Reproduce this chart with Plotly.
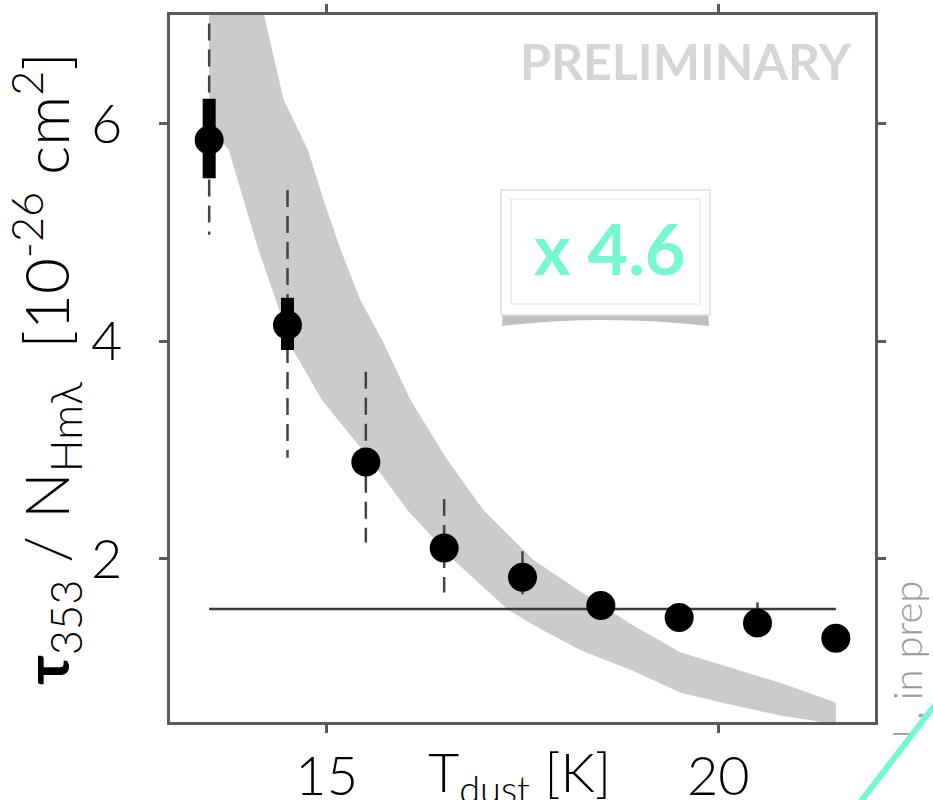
import plotly.graph_objects as go

# Dust optical depth per H nucleon versus dust temperature
T_dust = [13.5, 14.5, 15.5, 16.5, 17.5, 18.5, 19.5, 20.5, 21.5]
tau_per_nh = [5.85, 4.15, 2.89, 2.10, 1.83, 1.57, 1.46, 1.41, 1.27]

# statistical (thick) and systematic (dashed) uncertainty ranges
stat_lo = [5.50, 3.92, None, None, None, None, None, None, None]
stat_hi = [6.23, 4.40, None, None, None, None, None, None, None]
sys_lo = [4.98, 2.93, 2.15, 1.69, 1.63, None, None, 1.41, None]
sys_hi = [7.40, 5.39, 3.72, 2.55, 2.07, None, None, 1.60, None]

# reference level (horizontal line)
ref_level = 1.54

# model band: upper and lower envelopes
band_T_hi = [13.5, 14.2, 14.45, 14.76, 14.96, 15.18, 15.43, 15.71, 16.07, 16.54,
             17.0, 17.64, 18.24, 18.88, 19.52, 20.15, 20.79, 21.5]
band_hi = [9.2, 7.0, 6.22, 5.76, 5.30, 4.84, 4.38, 4.01, 3.46, 2.91,
           2.45, 1.99, 1.70, 1.40, 1.14, 1.00, 0.86, 0.68]
band_T_lo = [13.5, 13.75, 13.94, 14.13, 14.35, 14.57, 14.95, 15.56, 16.03, 16.62,
             17.32, 17.69, 18.24, 18.88, 19.52, 20.15, 20.79, 21.5]
band_lo = [5.97, 5.76, 5.30, 4.84, 4.38, 3.92, 3.45, 2.91, 2.45, 1.99,
           1.53, 1.37, 1.16, 0.98, 0.77, 0.66, 0.56, 0.48]

x_ticks = [15, 20]
y_ticks = [2, 4, 6]

FONT = "Lato, 'Open Sans', sans-serif"
AXIS = "#5a5a5a"
AQUA = "#76f7d4"

# plot-area geometry in pixels (used for decorations in paper units)
PL, PR, PT, PB = 170, 875, 15, 722
W, H = 933, 800


def px(x):
    return (x - PL) / (PR - PL)


def py(y):
    return (PB - y) / (PB - PT)


def segments(xs, lo, hi):
    sx, sy = [], []
    for x, a, b in zip(xs, lo, hi):
        if a is None or b is None:
            continue
        sx += [x, x, None]
        sy += [b, a, None]
    return sx, sy


fig = go.Figure()

# shaded model band
fig.add_trace(go.Scatter(
    x=band_T_hi + band_T_lo[::-1],
    y=band_hi + band_lo[::-1],
    fill="toself", fillcolor="#cbcbcb",
    line=dict(width=0), mode="lines", hoverinfo="skip", showlegend=False,
))

# reference level
fig.add_trace(go.Scatter(
    x=[T_dust[0], T_dust[-1]], y=[ref_level, ref_level],
    mode="lines", line=dict(color="#3a3a3a", width=2.5),
    hoverinfo="skip", showlegend=False,
))

# systematic error bars (dashed)
sx, sy = segments(T_dust, sys_lo, sys_hi)
fig.add_trace(go.Scatter(
    x=sx, y=sy, mode="lines",
    line=dict(color="#444444", width=2.5, dash="17px,9px"),
    hoverinfo="skip", showlegend=False,
))

# statistical error bars (thick)
sx, sy = segments(T_dust, stat_lo, stat_hi)
fig.add_trace(go.Scatter(
    x=sx, y=sy, mode="lines",
    line=dict(color="black", width=13),
    hoverinfo="skip", showlegend=False,
))

# data points
fig.add_trace(go.Scatter(
    x=T_dust, y=tau_per_nh, mode="markers",
    marker=dict(color="black", size=29, symbol="circle"),
    showlegend=False,
))

# boxed factor label: shadow, frame, inner frame
shapes = [
    dict(type="path", xref="paper", yref="paper", layer="above",
         path=(f"M {px(503)},{py(311)} L {px(708)},{py(311)} "
               f"L {px(709)},{py(326)} Q {px(605)},{py(314)} {px(502)},{py(326)} Z"),
         fillcolor="rgba(0,0,0,0.25)", line=dict(width=0)),
    dict(type="rect", xref="paper", yref="paper", layer="above",
         x0=px(501), x1=px(710), y0=py(315), y1=py(190),
         fillcolor="white", line=dict(color="#e0e0e0", width=1.5)),
    dict(type="rect", xref="paper", yref="paper", layer="above",
         x0=px(511), x1=px(700), y0=py(304), y1=py(199),
         line=dict(color="#ececec", width=1.5)),
]

annotations = [
    dict(text="<b>PRELIMINARY</b>", x=px(685), y=py(61), xref="paper", yref="paper",
         xanchor="center", yanchor="middle", showarrow=False,
         font=dict(family=FONT, size=50, color="#d6d6d6")),
    dict(text="<b>x 4.6</b>", x=px(609), y=py(248), xref="paper", yref="paper",
         xanchor="center", yanchor="middle", showarrow=False,
         font=dict(family=FONT, size=70, color=AQUA)),
    dict(text="T<sub>dust</sub> [K]", x=px(519), y=py(737), xref="paper", yref="paper",
         xanchor="center", yanchor="top", showarrow=False,
         font=dict(family=FONT, size=54, color="black", weight=300)),
    dict(text="al., in prep", x=px(906), y=py(579), xref="paper", yref="paper",
         xanchor="center", yanchor="top", textangle=-90, showarrow=False,
         font=dict(family=FONT, size=40, color="#9a9a9a", weight=300)),
    # page corner with aquamarine edge
    dict(text=" ", x=px(1058), y=py(878), xref="paper", yref="paper",
         xanchor="center", yanchor="middle", textangle=37.6, showarrow=False,
         width=400, height=600, bgcolor="white",
         bordercolor=AQUA, borderwidth=6, borderpad=0,
         font=dict(size=10)),
]

fig.update_layout(
    width=W, height=H,
    margin=dict(l=PL, r=W - PR, t=PT, b=H - PB, autoexpand=False),
    paper_bgcolor="white", plot_bgcolor="white",
    shapes=shapes, annotations=annotations,
    font=dict(family=FONT, color="black"),
)

fig.update_xaxes(
    range=[13, 22], tickvals=x_ticks, ticktext=[str(v) for v in x_ticks],
    ticks="outside", ticklen=8, tickwidth=2.5, tickcolor=AXIS,
    showline=True, linecolor=AXIS, linewidth=2.5, mirror="ticks",
    showgrid=False, zeroline=False,
    tickfont=dict(family=FONT, size=54, color="black", weight=300),
    ticklabelstandoff=-3,
    automargin=False,
)
fig.update_yaxes(
    range=[0.5, 7.0], tickvals=y_ticks, ticktext=[str(v) for v in y_ticks],
    ticks="outside", ticklen=8, tickwidth=2.5, tickcolor=AXIS,
    showline=True, linecolor=AXIS, linewidth=2.5, mirror="ticks",
    showgrid=False, zeroline=False,
    tickfont=dict(family=FONT, size=54, color="black", weight=300),
    ticklabelstandoff=26,
    title=dict(
        text=("<b>τ</b><sub>353</sub> / N<sub>Hmλ</sub>\u00a0 "
              "[10<sup>-26</sup> cm<sup>2</sup>]"),
        font=dict(family=FONT, size=62, color="black", weight=300),
        standoff=8,
    ),
    automargin=False,
)

fig.write_html("out.html")
